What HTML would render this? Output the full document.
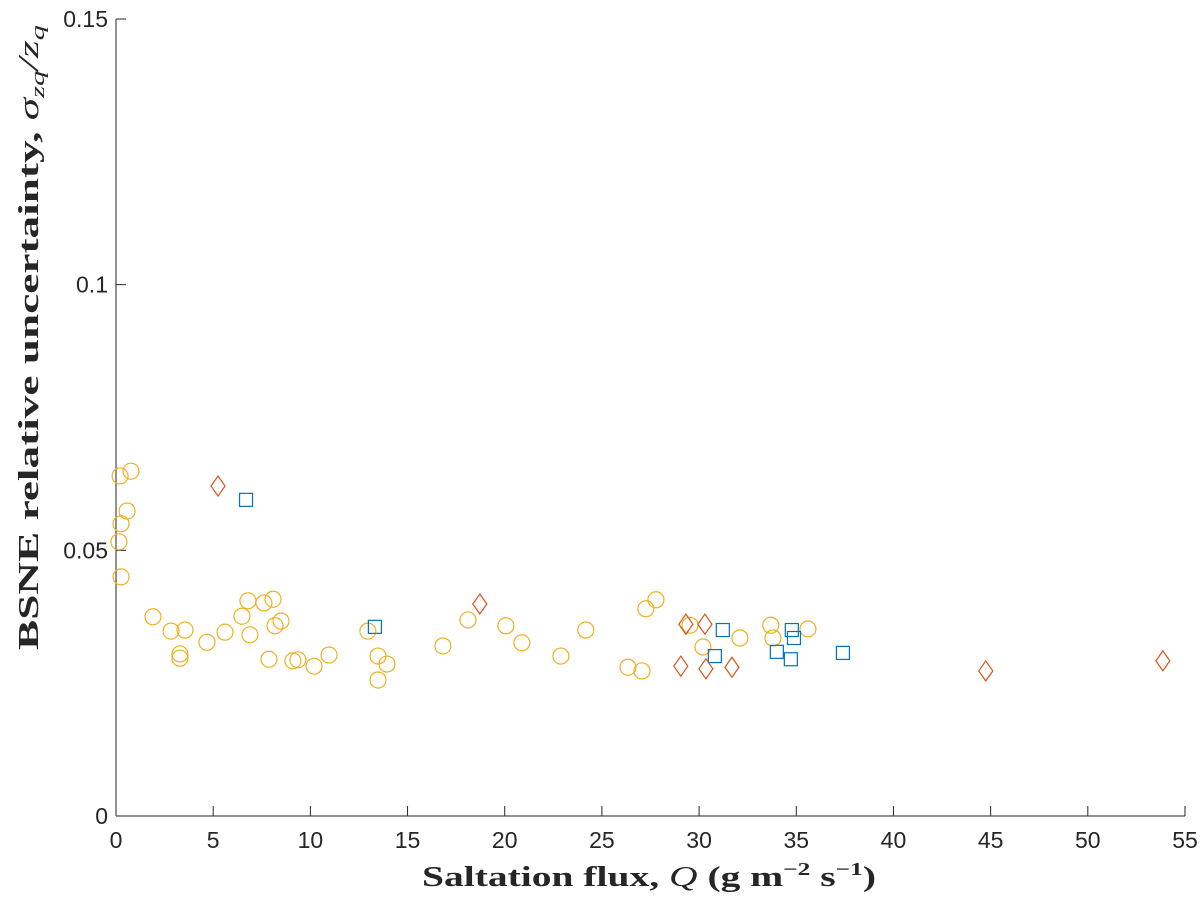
<!DOCTYPE html>
<html><head><meta charset="utf-8"><style>
body{margin:0;background:#fff}
svg text{font-family:"Liberation Sans",sans-serif}
</style></head><body>
<svg id="chart" width="1200" height="900" xmlns="http://www.w3.org/2000/svg">
<rect width="1200" height="900" fill="#fff"/>
<g id="axes"></g>
<g id="marks"></g>
<text x="422" y="886" textLength="454" lengthAdjust="spacingAndGlyphs" font-weight="bold" font-size="28" fill="#262626" style="font-family:'Liberation Serif',serif">Saltation flux, <tspan font-style="italic" font-weight="normal">Q</tspan> (g m<tspan font-size="18" dy="-11">−2</tspan><tspan dy="11"> s</tspan><tspan font-size="18" dy="-11">−1</tspan><tspan dy="11">)</tspan></text>
<text transform="translate(38,650) rotate(-90)" textLength="625" lengthAdjust="spacingAndGlyphs" font-weight="bold" font-size="28" fill="#262626" style="font-family:'Liberation Serif',serif">BSNE relative uncertainty, <tspan font-style="italic" font-weight="normal">σ</tspan><tspan font-style="italic" font-weight="normal" font-size="19" dy="6">zq</tspan><tspan font-style="italic" font-weight="normal" dy="-6">/z</tspan><tspan font-style="italic" font-weight="normal" font-size="19" dy="6">q</tspan></text>
</svg>
<script>
const xTicks=[0,5,10,15,20,25,30,35,40,45,50,55];
const yTicks=[0,0.05,0.1,0.15];
const yTickLabels=["0","0.05","0.1","0.15"];
const circleQ=[0.21,0.77,0.26,0.57,0.15,0.26,1.90,2.83,3.29,3.29,3.55,4.68,5.61,6.48,6.79,6.89,7.61,8.08,8.18,8.49,7.87,9.10,9.36,10.19,10.96,12.96,13.48,13.48,13.94,16.82,18.11,20.06,20.88,22.89,24.17,26.34,27.06,27.26,27.78,29.53,30.20,32.10,33.69,33.80,35.60];
const circleU=[0.0640,0.0649,0.0550,0.0574,0.0516,0.0450,0.0375,0.0348,0.0305,0.0297,0.0350,0.0327,0.0346,0.0376,0.0405,0.0341,0.0401,0.0408,0.0358,0.0367,0.0295,0.0292,0.0294,0.0282,0.0303,0.0348,0.0301,0.0256,0.0286,0.0320,0.0369,0.0358,0.0326,0.0301,0.0350,0.0280,0.0273,0.0390,0.0407,0.0359,0.0318,0.0335,0.0359,0.0335,0.0352];
const squareQ=[6.69,13.32,30.81,31.22,34.00,34.72,34.77,34.88,37.40];
const squareU=[0.0595,0.0356,0.0301,0.0350,0.0309,0.0295,0.0350,0.0335,0.0307];
const diamondQ=[5.25,18.72,29.06,29.32,30.30,30.35,31.69,44.75,53.86];
const diamondU=[0.0621,0.0399,0.0282,0.0361,0.0361,0.0277,0.0280,0.0273,0.0292];
const X0=116,X1=1185,Y0=816,Y1=19;
const sx=v=>X0+(v-0)/55*(X1-X0);
const sy=v=>Y0-(v/0.15)*(Y0-Y1);
const NS="http://www.w3.org/2000/svg";
const axes=document.getElementById('axes'),marks=document.getElementById('marks');
function mk(t,a,p){const e=document.createElementNS(NS,t);for(const k in a)e.setAttribute(k,a[k]);p.appendChild(e);return e;}
let l=mk('line',{x1:X0,y1:Y0,x2:X1,y2:Y0,stroke:'#262626','stroke-width':1},axes);


l=mk('line',{x1:X0,y1:Y0,x2:X0,y2:Y1,stroke:'#262626','stroke-width':1},axes);


xTicks.forEach(t=>{const x=sx(t);
 const tk=mk('line',{x1:x,y1:Y0,x2:x,y2:Y0-10,stroke:'#262626'},axes);
 
 
 const tx=mk('text',{x:x,y:Y0+32,'text-anchor':'middle','font-size':23,fill:'#262626'},axes);tx.textContent=t;
 
 });
yTicks.forEach((t,i)=>{const y=sy(t);
 const tk=mk('line',{x1:X0,y1:y,x2:X0+10,y2:y,stroke:'#262626'},axes);
 
 
 const tx=mk('text',{x:X0-8,y:y+8,'text-anchor':'end','font-size':23,fill:'#262626'},axes);tx.textContent=yTickLabels[i];
 
 });
circleQ.forEach((q,i)=>{const c=mk('circle',{cx:sx(q),cy:sy(circleU[i]),r:8,fill:'none',stroke:'#EDB120','stroke-width':1.2},marks);
 
 });
squareQ.forEach((q,i)=>{const x=sx(q),y=sy(squareU[i]);const r=mk('rect',{x:x-6.5,y:y-6.5,width:13,height:13,fill:'none',stroke:'#0072BD','stroke-width':1.2},marks);
 
 });
diamondQ.forEach((q,i)=>{const x=sx(q),y=sy(diamondU[i]);const p=mk('polygon',{points:`${x},${y-10} ${x+7},${y} ${x},${y+10} ${x-7},${y}`,fill:'none',stroke:'#D95319','stroke-width':1.2},marks);
 
 });
</script>
</body></html>
